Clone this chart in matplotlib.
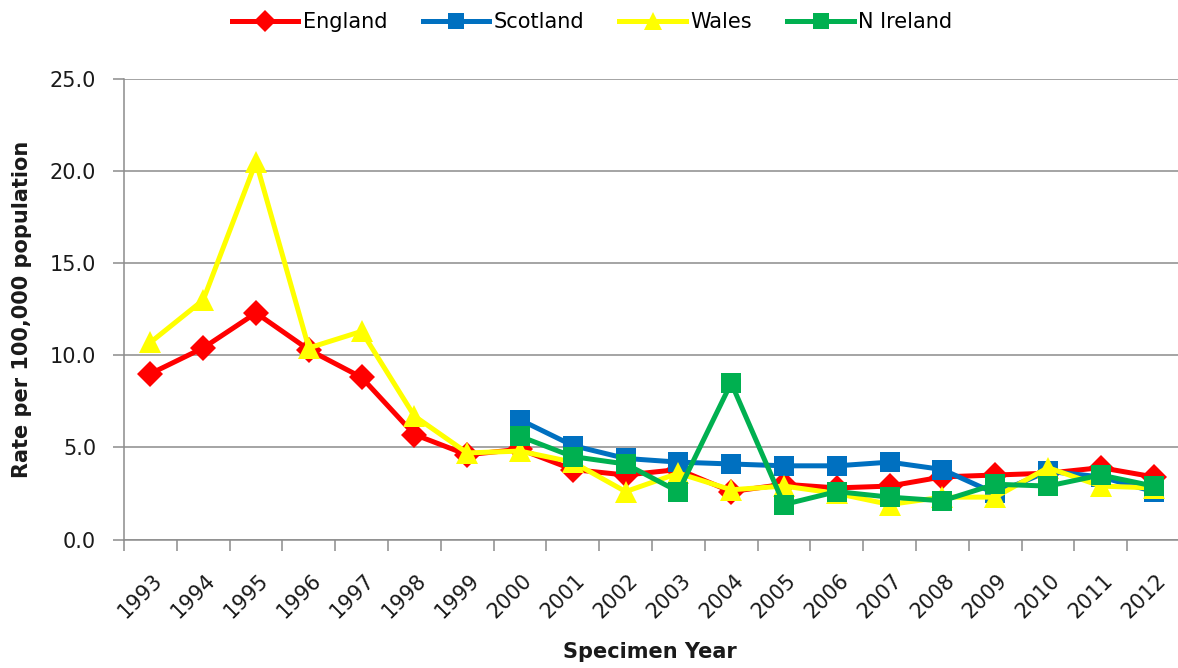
import numpy as np
import matplotlib
matplotlib.use("Agg")
import matplotlib.pyplot as plt
import matplotlib.transforms as mtransforms
from matplotlib.ticker import FixedLocator, FormatStrFormatter

plt.rcParams['font.family'] = ['DejaVu Sans']

# rates per 100,000 population by specimen year
years = [str(y) for y in range(1993, 2013)]
england = [9.0, 10.4, 12.3, 10.3, 8.8, 5.7, 4.6, 4.9, 3.8, 3.5,
           3.8, 2.6, 3.0, 2.8, 2.9, 3.4, 3.5, 3.6, 3.9, 3.4]
scotland = [np.nan] * 7 + [6.5, 5.1, 4.4, 4.2, 4.1, 4.0, 4.0, 4.2, 3.8,
                           2.5, 3.7, 3.4, 2.6]
wales = [10.7, 13.0, 20.5, 10.4, 11.3, 6.7, 4.7, 4.8, 4.2, 2.6,
         3.6, 2.7, 2.9, 2.5, 1.9, 2.3, 2.3, 3.9, 2.9, 2.8]
nireland = [np.nan] * 7 + [5.6, 4.5, 4.1, 2.6, 8.5, 1.9, 2.6, 2.3, 2.1,
                           3.0, 2.9, 3.5, 2.9]

series = [
    ("England", england, "#FF0000", "D", 13.5),
    ("Scotland", scotland, "#0070C0", "s", 14),
    ("Wales", wales, "#FFFF00", "^", 16),
    ("N Ireland", nireland, "#00B050", "s", 14),
]

fig = plt.figure(figsize=(11.78, 6.68), dpi=100)
ax = fig.add_axes([124 / 1178, 1 - 539.5 / 668, 1056 / 1178, 460.5 / 668])

x = np.arange(len(years))
for i, (name, vals, col, mk, ms) in enumerate(series):
    ax.plot(x, vals, color=col, lw=3.6, marker=mk, markersize=ms,
            markeredgewidth=0, label=name, zorder=3 + i,
            solid_joinstyle='miter')

grid_col = '#8C8C8C'
ax.set_xlim(-0.5, len(years) - 0.5)
ax.set_ylim(0, 25)
ax.yaxis.set_major_locator(FixedLocator([0, 5, 10, 15, 20, 25]))
ax.yaxis.set_major_formatter(FormatStrFormatter('%.1f'))
ax.grid(axis='y', color=grid_col, lw=1.1, zorder=0)
ax.set_axisbelow(True)

# category labels at centres, tick marks on the boundaries
ax.set_xticks(x)
ax.set_xticklabels(years, rotation=45, ha='right', va='top',
                   rotation_mode='anchor')
ax.set_xticks(np.arange(-0.5, len(years)), minor=True)
ax.tick_params(axis='x', which='major', length=0, pad=22, labelsize=15,
               labelcolor='#1a1a1a')
ax.tick_params(axis='x', which='minor', length=8, width=1.1, color=grid_col,
               direction='out')
ax.tick_params(axis='y', length=8, width=1.1, color=grid_col, pad=12,
               labelsize=15, labelcolor='#1a1a1a')
shift = mtransforms.ScaledTranslation(2 / 100, 0, fig.dpi_scale_trans)
for lab in ax.get_xticklabels():
    lab.set_transform(lab.get_transform() + shift)

for side in ['top', 'right']:
    ax.spines[side].set_visible(False)
for side in ['left', 'bottom']:
    ax.spines[side].set_color(grid_col)
    ax.spines[side].set_linewidth(1.1)

fig.text(22 / 1178, 1 - 309 / 668, 'Rate per 100,000 population',
         rotation=90, ha='center', va='center', fontsize=15,
         fontweight='bold', color='#1a1a1a')
fig.text(650 / 1178, 1 - 652 / 668, 'Specimen Year', ha='center',
         va='center', fontsize=15, fontweight='bold', color='#1a1a1a')

fig.legend(loc='center', bbox_to_anchor=(592 / 1178, 1 - 22 / 668),
           ncol=4, frameon=False, fontsize=15, handlelength=3.2,
           handletextpad=0.2, columnspacing=1.7, numpoints=1,
           markerscale=0.85)

fig.savefig('out.png', dpi=100)
